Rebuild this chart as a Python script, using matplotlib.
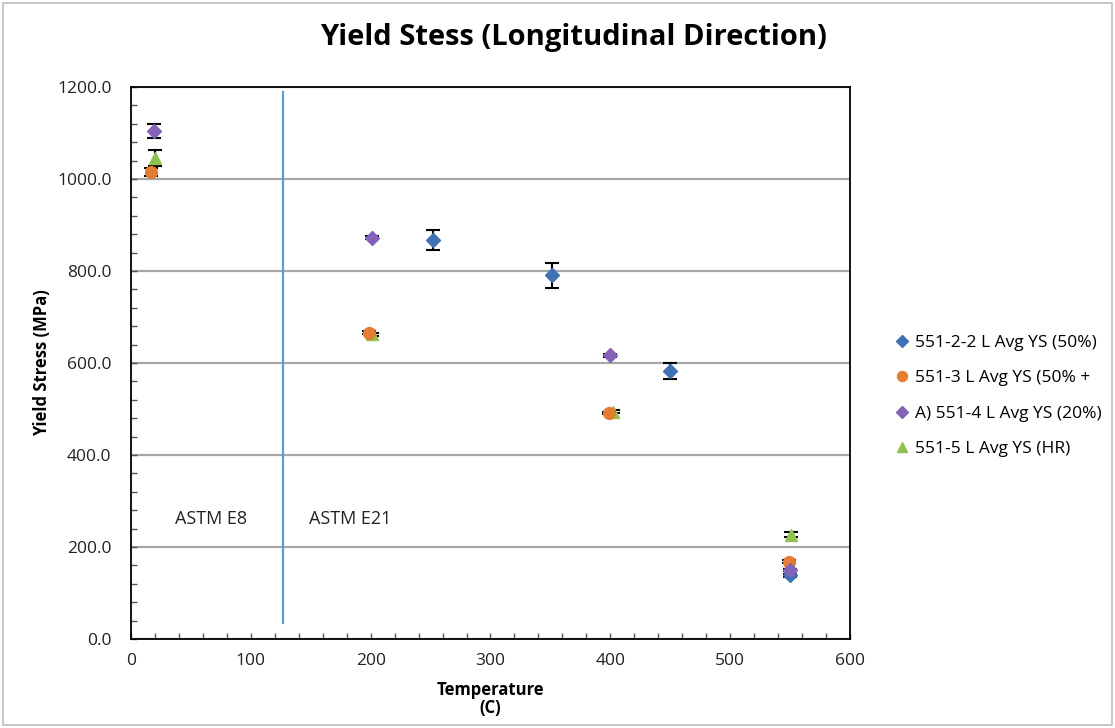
import matplotlib.pyplot as plt
from matplotlib.lines import Line2D
from matplotlib.patches import Rectangle
from matplotlib.ticker import MultipleLocator, FormatStrFormatter

plt.rcParams['font.family'] = ['Open Sans', 'DejaVu Sans']

# average yield stress per specimen series, with error bar half-widths
t_22 = [252, 351, 450, 550]
ys_22 = [868, 791, 583, 138]
err_22 = [22, 27, 18, 3]

t_3 = [17, 199, 399, 549]
ys_3 = [1015, 666, 491, 168]
err_3 = [8, 3, 3, 3]

t_4 = [19, 201, 400, 550]
ys_4 = [1105, 872, 617, 150]
err_4 = [15, 3, 3, 3]

t_5 = [20, 201, 402, 551]
ys_5 = [1045, 662, 494, 227]
err_5 = [17, 3, 3, 6]

labels = ['551-2-2 L Avg YS (50%)', '551-3 L Avg YS (50% +',
          'A) 551-4 L Avg YS (20%)', '551-5 L Avg YS (HR)']
colors = ['#3f72b5', '#e47c32', '#8462b8', '#8fc24f']
markers = ['D', 'o', 'D', '^']
sizes = [7, 8.5, 7, 9]

split_temp = 127

fig = plt.figure(figsize=(11.15, 7.28), dpi=100)
ax = fig.add_axes([0.1175, 0.1223, 0.6448, 0.7582])

series = [(t_22, ys_22, err_22, 3), (t_3, ys_3, err_3, 3),
          (t_4, ys_4, err_4, 4), (t_5, ys_5, err_5, 2)]
for i, (t, ys, err, z) in enumerate(series):
    ax.errorbar(t, ys, yerr=err, fmt=markers[i], color=colors[i], ms=sizes[i],
                ecolor='black', elinewidth=1.5, capsize=5, capthick=1.5, zorder=z)

# boundary between the two test standards
ax.plot([split_temp, split_temp], [35, 1190], color='#5b9bd5', lw=1.5, zorder=1)
ax.text(67, 261, 'ASTM E8', ha='center', va='center', fontsize=13, color='#222222')
ax.text(183, 261, 'ASTM E21', ha='center', va='center', fontsize=13, color='#222222')

ax.set_xlim(0, 600)
ax.set_ylim(0, 1200)
ax.xaxis.set_major_locator(MultipleLocator(100))
ax.xaxis.set_minor_locator(MultipleLocator(20))
ax.yaxis.set_major_locator(MultipleLocator(200))
ax.yaxis.set_minor_locator(MultipleLocator(40))
ax.yaxis.set_major_formatter(FormatStrFormatter('%.1f'))
ax.tick_params(which='both', direction='in', length=4, width=1, color='#555555',
               labelsize=12.5, labelcolor='#222222')
ax.tick_params(axis='x', pad=10)
ax.tick_params(axis='y', pad=14)
ax.grid(axis='y', color='#a6a6a6', lw=1.6, zorder=0)
ax.set_axisbelow(True)
for s in ax.spines.values():
    s.set_color('black')
    s.set_linewidth(1.3)

ax.set_xlabel('Temperature\n(C)', fontsize=12, fontweight='bold', linespacing=0.95,
              labelpad=9)
ax.set_ylabel('Yield Stress (MPa)', fontsize=12, fontweight='bold', labelpad=4)

fig.text(0.514, 0.948, 'Yield Stess (Longitudinal Direction)', ha='center', va='center',
         fontsize=21, fontweight='bold')

handles = [Line2D([], [], ls='none', marker=markers[i], color=colors[i],
                  ms=sizes[i] * 0.85) for i in range(4)]
fig.legend(handles, labels, loc='center left', bbox_to_anchor=(0.786, 0.456),
           frameon=False, fontsize=12.5, handletextpad=0.1, labelspacing=1.1,
           handlelength=1.2)

fig.patches.append(Rectangle((0.003, 0.004), 0.994, 0.992, transform=fig.transFigure,
                             fill=False, edgecolor='#bdbdbd', lw=1.2))

fig.savefig('out.png', dpi=100)
